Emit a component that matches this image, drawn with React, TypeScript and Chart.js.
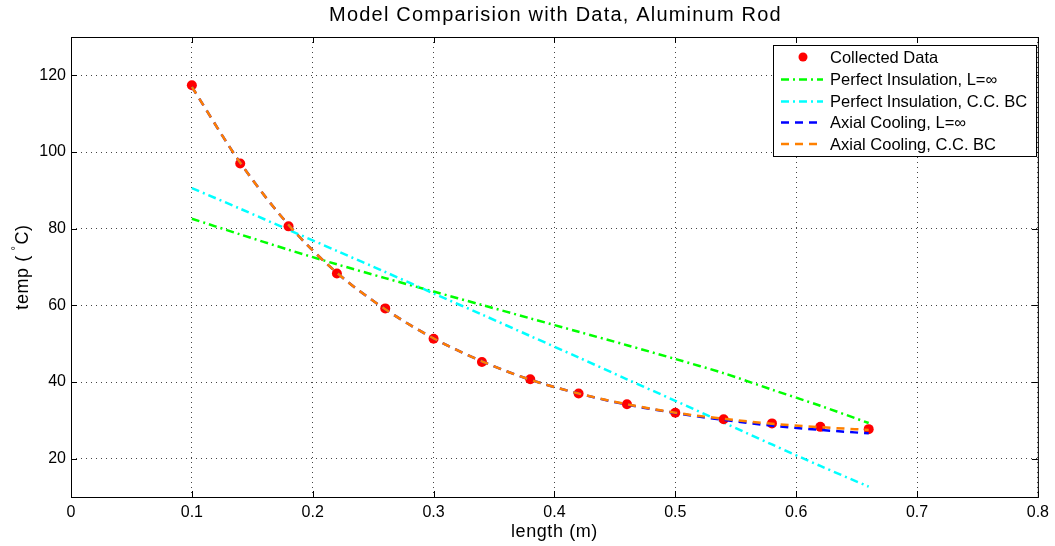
import React, { useEffect, useRef } from "react";
import { Chart, registerables } from "chart.js";

Chart.register(...registerables);

const xData = [0.1, 0.14, 0.18, 0.22, 0.26, 0.3, 0.34, 0.38, 0.42, 0.46, 0.5, 0.54, 0.58, 0.62, 0.66];
const collected = [117.4, 97.0, 80.6, 68.3, 59.2, 51.3, 45.2, 40.7, 37.0, 34.2, 32.0, 30.3, 29.2, 28.3, 27.7];

const xModel = [0.1, 0.14, 0.18, 0.22, 0.26, 0.3, 0.34, 0.38, 0.42, 0.46, 0.5, 0.54, 0.58, 0.62, 0.66];
const perfectInf = [82.6, 78.5, 74.5, 70.7, 67.1, 63.6, 60.1, 56.6, 53.1, 49.6, 46.0, 42.3, 38.0, 33.8, 29.3];
const perfectCC = [90.6, 85.2, 79.7, 74.2, 68.7, 63.1, 57.6, 52.0, 46.4, 40.7, 35.1, 29.4, 23.7, 18.1, 12.7];
const axialInf = [117.0, 97.2, 81.0, 68.5, 59.0, 51.4, 45.4, 40.6, 37.0, 34.1, 31.9, 30.1, 28.6, 27.5, 26.6];
const axialCC = [117.0, 97.2, 81.0, 68.5, 59.0, 51.4, 45.4, 40.6, 37.0, 34.2, 32.0, 30.4, 29.1, 28.2, 27.5];

const xTicks = [0, 0.1, 0.2, 0.3, 0.4, 0.5, 0.6, 0.7, 0.8];
const yTicks = [20, 40, 60, 80, 100, 120];

const titleText = "Model Comparision with Data, Aluminum Rod";
const xLabel = "length (m)";
const legendLabels = [
  "Collected Data",
  "Perfect Insulation, L=\u221E",
  "Perfect Insulation, C.C. BC",
  "Axial Cooling, L=\u221E",
  "Axial Cooling, C.C. BC",
];

const FONT = "'Liberation Sans', Arial, Helvetica, sans-serif";

const pts = (xs: number[], ys: number[]) => xs.map((x, i) => ({ x, y: ys[i] }));

export default function App() {
  const ref = useRef<HTMLCanvasElement | null>(null);

  useEffect(() => {
    if (!ref.current) return;

    const decor = {
      id: "decor",
      afterDraw(chart: any) {
        const ctx = chart.ctx;
        const a = chart.chartArea;
        const xs = chart.scales.x;
        const ys = chart.scales.y;
        ctx.save();
        ctx.strokeStyle = "#000";
        ctx.lineWidth = 1;
        ctx.setLineDash([]);
        ctx.strokeRect(a.left + 0.5, a.top + 0.5, a.right - a.left, a.bottom - a.top);
        ctx.beginPath();
        xTicks.forEach((t) => {
          const px = Math.round(xs.getPixelForValue(t)) + 0.5;
          ctx.moveTo(px, a.bottom);
          ctx.lineTo(px, a.bottom - 6);
          ctx.moveTo(px, a.top);
          ctx.lineTo(px, a.top + 6);
        });
        yTicks.forEach((t) => {
          const py = Math.round(ys.getPixelForValue(t)) + 0.5;
          ctx.moveTo(a.left, py);
          ctx.lineTo(a.left + 6, py);
          ctx.moveTo(a.right, py);
          ctx.lineTo(a.right - 6, py);
        });
        ctx.stroke();

        // title
        ctx.fillStyle = "#000";
        ctx.textAlign = "center";
        ctx.textBaseline = "middle";
        ctx.font = `20px ${FONT}`;
        (ctx as any).letterSpacing = "1.2px";
        ctx.fillText(titleText, (a.left + a.right) / 2 + 1, 15);

        // x label
        ctx.font = `18px ${FONT}`;
        (ctx as any).letterSpacing = "0.6px";
        ctx.fillText(xLabel, (a.left + a.right) / 2, 532);

        // y label
        ctx.save();
        ctx.translate(23, (a.top + a.bottom) / 2);
        ctx.rotate(-Math.PI / 2);
        ctx.font = `18px ${FONT}`;
        const p1 = "temp ( ";
        const p3 = "C)";
        const w1 = ctx.measureText(p1).width;
        ctx.font = `11px ${FONT}`;
        const w2 = ctx.measureText("\u00B0").width;
        ctx.font = `18px ${FONT}`;
        const w3 = ctx.measureText(p3).width;
        const total = w1 + w2 + w3;
        let cx = -total / 2;
        ctx.textAlign = "left";
        ctx.fillText(p1, cx, 0);
        cx += w1;
        ctx.font = `11px ${FONT}`;
        ctx.fillText("\u00B0", cx - 1, -7);
        cx += w2;
        ctx.font = `18px ${FONT}`;
        ctx.fillText(p3, cx, 0);
        ctx.restore();
        (ctx as any).letterSpacing = "0px";

        // legend
        const lx = 773, ly = 45, lw = 263, lh = 111;
        ctx.fillStyle = "#fff";
        ctx.fillRect(lx, ly, lw, lh);
        ctx.strokeStyle = "#000";
        ctx.lineWidth = 1;
        ctx.strokeRect(lx + 0.5, ly + 0.5, lw, lh);
        const rows = [57, 79.5, 101.5, 122.5, 144];
        const styles = [
          null,
          { color: "#00ff00", dash: [8, 4, 2, 4] },
          { color: "#00ffff", dash: [8, 4, 2, 4] },
          { color: "#0000ff", dash: [8, 6] },
          { color: "#ff8000", dash: [8, 6] },
        ];
        ctx.font = `16.5px ${FONT}`;
        ctx.textAlign = "left";
        ctx.textBaseline = "middle";
        rows.forEach((ry, i) => {
          const st = styles[i];
          if (!st) {
            ctx.fillStyle = "#ff0000";
            ctx.beginPath();
            ctx.arc(803, ry, 4.5, 0, Math.PI * 2);
            ctx.fill();
          } else {
            ctx.strokeStyle = st.color;
            ctx.lineWidth = 2.5;
            ctx.setLineDash(st.dash);
            ctx.beginPath();
            ctx.moveTo(781, ry);
            ctx.lineTo(823, ry);
            ctx.stroke();
            ctx.setLineDash([]);
          }
          ctx.fillStyle = "#000";
          ctx.fillText(legendLabels[i], 830, ry + 1);
        });
        ctx.restore();
      },
    };

    const chart = new Chart(ref.current, {
      type: "scatter",
      data: {
        datasets: [
          {
            label: legendLabels[1],
            data: pts(xModel, perfectInf),
            showLine: true,
            borderColor: "#00ff00",
            borderWidth: 2.5,
            borderDash: [8, 4, 2, 4],
            pointRadius: 0,
            tension: 0.3,
            order: 4,
          },
          {
            label: legendLabels[2],
            data: pts(xModel, perfectCC),
            showLine: true,
            borderColor: "#00ffff",
            borderWidth: 2.5,
            borderDash: [8, 4, 2, 4],
            pointRadius: 0,
            tension: 0.3,
            order: 3,
          },
          {
            label: legendLabels[0],
            data: pts(xData, collected),
            showLine: false,
            backgroundColor: "#ff0000",
            borderColor: "#ff0000",
            pointRadius: 5,
            pointBorderWidth: 0,
            order: 2,
          },
          {
            label: legendLabels[3],
            data: pts(xModel, axialInf),
            showLine: true,
            borderColor: "#0000ff",
            borderWidth: 2.5,
            borderDash: [8, 6],
            pointRadius: 0,
            cubicInterpolationMode: "monotone",
            order: 1,
          },
          {
            label: legendLabels[4],
            data: pts(xModel, axialCC),
            showLine: true,
            borderColor: "#ff8000",
            borderWidth: 2.5,
            borderDash: [8, 6],
            pointRadius: 0,
            cubicInterpolationMode: "monotone",
            order: 0,
          },
        ],
      },
      options: {
        animation: false,
        responsive: false,
        maintainAspectRatio: false,
        layout: { padding: { top: 37, right: 16, left: 0, bottom: 0 } },
        plugins: {
          legend: { display: false },
          title: { display: false },
          tooltip: { enabled: false },
        },
        scales: {
          x: {
            type: "linear",
            min: 0,
            max: 0.8,
            afterBuildTicks: (s: any) => {
              s.ticks = xTicks.map((v) => ({ value: v }));
            },
            afterFit: (s: any) => {
              s.height = 49;
            },
            ticks: {
              color: "#000",
              font: { family: FONT, size: 16 },
              padding: 6,
              maxRotation: 0,
              callback: (v: any) => String(v),
            },
            grid: {
              color: "#444",
              lineWidth: 1,
              drawTicks: false,
            },
            border: { display: false, dash: [1, 4] },
          },
          y: {
            type: "linear",
            min: 10,
            max: 130,
            afterBuildTicks: (s: any) => {
              s.ticks = yTicks.map((v) => ({ value: v }));
            },
            afterFit: (s: any) => {
              s.width = 71;
            },
            ticks: {
              color: "#000",
              font: { family: FONT, size: 16 },
              padding: 5,
              callback: (v: any) => String(v),
            },
            grid: {
              color: "#444",
              lineWidth: 1,
              drawTicks: false,
            },
            border: { display: false, dash: [1, 4] },
          },
        },
      } as any,
      plugins: [decor],
    });

    return () => chart.destroy();
  }, []);

  return (
    <div style={{ position: "fixed", left: 0, top: 0, width: 1055, height: 546, background: "#fff" }}>
      <canvas ref={ref} width={1055} height={546} style={{ width: 1055, height: 546 }} />
    </div>
  );
}
